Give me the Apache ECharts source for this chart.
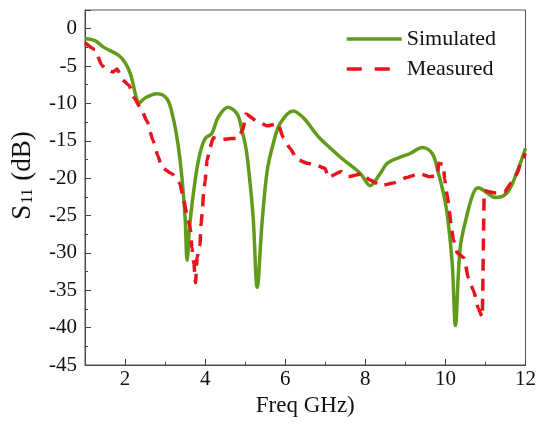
<!DOCTYPE html>
<html>
<head>
<meta charset="utf-8">
<script src="https://cdn.jsdelivr.net/npm/echarts@6/dist/echarts.min.js"></script>
<style>html,body{margin:0;padding:0;background:#fff;}#c{width:539px;height:425px;}</style>
</head>
<body>
<div id="c"></div>
<script>
var xLabelValues = [2, 4, 6, 8, 10, 12];
var simFreq = [1.0, 1.25, 1.47, 1.85, 2.02, 2.15, 2.27, 2.35, 2.52, 2.8, 3.05, 3.2, 3.32, 3.42, 3.5, 3.55, 3.62, 3.75, 3.87, 4.0, 4.17, 4.32, 4.57, 4.8, 4.92, 5.02, 5.1, 5.2, 5.3, 5.42, 5.55, 5.7, 5.87, 6.2, 6.45, 6.7, 6.87, 7.38, 7.88, 8.12, 8.37, 8.55, 8.87, 9.12, 9.42, 9.67, 9.82, 9.95, 10.05, 10.17, 10.25, 10.37, 10.55, 10.7, 10.82, 11.05, 11.25, 11.55, 11.8, 12.0];
var simVal = [-1.3, -1.6, -2.5, -3.6, -4.7, -6.3, -9.0, -9.9, -9.2, -8.7, -9.4, -11.9, -15.4, -19.9, -25.3, -31.0, -26.0, -20.3, -16.7, -14.7, -14.0, -11.9, -10.5, -11.4, -13.6, -16.0, -19.5, -25.3, -34.6, -26.0, -19.0, -15.4, -12.7, -11.0, -11.9, -13.6, -14.7, -17.2, -19.4, -21.0, -19.4, -18.0, -17.2, -16.7, -15.9, -16.7, -19.2, -22.0, -25.0, -31.4, -39.7, -29.3, -24.7, -22.0, -21.3, -22.0, -22.6, -21.9, -19.0, -16.0];
var measFreq = [1.0, 1.25, 1.42, 1.5, 1.7, 1.8, 1.95, 2.1, 2.22, 2.4, 2.55, 2.7, 2.82, 2.92, 3.17, 3.37, 3.45, 3.55, 3.63, 3.67, 3.72, 3.76, 3.8, 3.87, 3.9, 3.93, 3.96, 4.0, 4.05, 4.12, 4.2, 4.45, 4.65, 4.82, 4.95, 5.02, 5.3, 5.55, 5.82, 5.95, 6.12, 6.3, 6.55, 6.75, 7.0, 7.07, 7.4, 7.58, 7.93, 8.1, 8.4, 8.73, 9.03, 9.35, 9.6, 9.8, 9.83, 9.95, 9.98, 10.05, 10.1, 10.15, 10.2, 10.3, 10.47, 10.57, 10.7, 10.82, 10.92, 10.97, 11.27, 11.47, 11.65, 11.8, 11.9, 12.0];
var measVal = [-1.9, -2.8, -4.9, -5.3, -5.8, -5.4, -6.9, -7.6, -9.2, -10.7, -12.4, -15.0, -17.0, -18.6, -19.4, -20.7, -22.6, -25.0, -26.7, -29.3, -31.5, -34.0, -30.6, -29.0, -26.0, -24.5, -22.0, -20.3, -17.6, -16.0, -14.6, -14.8, -14.7, -14.7, -13.4, -11.4, -12.4, -13.0, -12.7, -14.6, -16.0, -17.5, -18.0, -18.2, -18.7, -19.9, -19.1, -19.8, -19.4, -20.2, -21.0, -20.6, -19.9, -19.4, -19.8, -19.7, -18.0, -18.2, -20.1, -22.5, -24.5, -26.6, -28.3, -30.0, -30.7, -33.3, -35.0, -37.4, -38.6, -21.7, -22.0, -21.9, -20.6, -19.3, -17.6, -16.7];

function pairs(xs, ys) { return xs.map(function (x, i) { return [x, ys[i]]; }); }

var FONT = 'Liberation Serif';
var chart = echarts.init(document.getElementById('c'));
chart.setOption({
  animation: false,
  backgroundColor: '#fff',
  grid: { left: 85, right: 13, top: 10, bottom: 60, show: true, borderColor: '#555', borderWidth: 1, backgroundColor: 'transparent' },
  legend: {
    orient: 'vertical', left: 345, top: 28, padding: 0, itemWidth: 55, itemHeight: 14, itemGap: 8,
    itemStyle: { opacity: 0 },
    lineStyle: { width: 3.5 },
    textStyle: { fontFamily: FONT, fontSize: 22, color: '#111' },
    data: [
      { name: 'Simulated' },
      { name: 'Measured', lineStyle: { type: [15, 13], width: 3.5 } }
    ]
  },
  xAxis: [{
    type: 'value', min: 1, max: 12, interval: 1,
    axisLine: { onZero: false, lineStyle: { color: '#444', width: 1 } },
    axisTick: { inside: true, length: 6, customValues: xLabelValues, lineStyle: { color: '#444' } },
    axisLabel: { customValues: xLabelValues, fontFamily: FONT, fontSize: 21, color: '#111', margin: 4 },
    splitLine: { show: false },
    name: 'Freq GHz)', nameLocation: 'middle', nameGap: 28,
    nameTextStyle: { fontFamily: FONT, fontSize: 23, color: '#111' }
  }, {
    type: 'value', min: 1, max: 12, interval: 1, position: 'bottom',
    axisLine: { show: false, onZero: false },
    axisTick: { inside: true, length: 3, lineStyle: { color: '#444' } },
    axisLabel: { show: false },
    splitLine: { show: false }
  }],
  yAxis: {
    type: 'value', min: -45, max: 2.5, interval: 5,
    axisLine: { show: true, onZero: false, lineStyle: { color: '#444', width: 1 } },
    axisTick: { inside: true, length: 6, lineStyle: { color: '#444' } },
    minorTick: { show: true, splitNumber: 2, length: 3, lineStyle: { color: '#444' } },
    axisLabel: {
      fontFamily: FONT, fontSize: 21, color: '#111', margin: 8,
      formatter: function (v) { return v > 0 ? '' : String(v); }
    },
    splitLine: { show: false },
    name: 'S{sub|11} (dB)', nameLocation: 'middle', nameGap: 49,
    nameTextStyle: {
      fontFamily: FONT, fontSize: 27, color: '#111', padding: [0, 0, 0, 24],
      rich: { sub: { fontFamily: FONT, fontSize: 16, color: '#111', verticalAlign: 'bottom', padding: [10, 1, 0, 1] } }
    }
  },
  series: [
    {
      name: 'Simulated', type: 'line', xAxisIndex: 0, data: pairs(simFreq, simVal),
      symbol: 'none', smooth: 0.35,
      lineStyle: { color: '#619b1b', width: 3.5 }, itemStyle: { color: '#619b1b' }, z: 3
    },
    {
      name: 'Measured', type: 'line', xAxisIndex: 0, data: pairs(measFreq, measVal),
      symbol: 'none', smooth: 0.15, smoothMonotone: 'x',
      lineStyle: { color: '#e8131b', width: 3.5, type: [12, 8] }, itemStyle: { color: '#e8131b' }, z: 4
    }
  ]
});
</script>
</body>
</html>
